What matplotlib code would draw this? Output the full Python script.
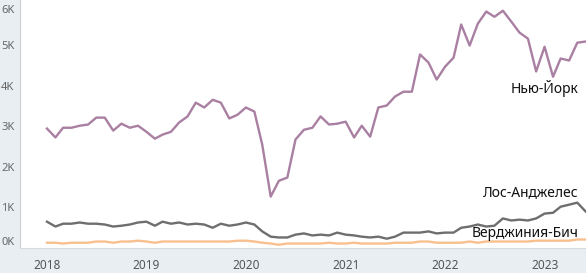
import pandas as pd
import matplotlib
matplotlib.use("Agg")
import matplotlib.pyplot as plt
import matplotlib.dates as mdates

# monthly values, Jan 2018 .. Jun 2023
months = pd.date_range("2018-01-01", periods=66, freq="MS")

new_york = [2940, 2720, 2960, 2960, 3010, 3040, 3210, 3210, 2890, 3060, 2960, 3010,
            2860, 2690, 2790, 2860, 3090, 3240, 3580, 3460, 3650, 3580, 3190, 3280,
            3460, 3360, 2540, 1260, 1650, 1730, 2670, 2910, 2960, 3240, 3040, 3060,
            3110, 2720, 3010, 2740, 3460, 3510, 3730, 3850, 3850, 4770, 4570, 4150,
            4470, 4690, 5510, 4990, 5530, 5830, 5700, 5850, 5580, 5310, 5160, 4350,
            4960, 4220, 4670, 4620, 5060, 5090]

los_angeles = [640, 520, 590, 590, 620, 590, 590, 570, 520, 540, 570, 620,
               640, 540, 640, 590, 620, 570, 590, 570, 490, 590, 540, 570,
               620, 570, 400, 270, 250, 250, 320, 350, 300, 320, 300, 370,
               320, 300, 270, 250, 270, 220, 270, 370, 370, 370, 400, 350,
               370, 370, 490, 520, 570, 520, 540, 720, 670, 690, 670, 720,
               840, 860, 1010, 1060, 1110, 890]

virginia_beach = [120, 120, 100, 120, 120, 120, 150, 150, 120, 150, 150, 170,
                  150, 120, 150, 150, 150, 150, 150, 150, 150, 150, 150, 170,
                  170, 150, 120, 100, 70, 100, 100, 100, 100, 100, 120, 100,
                  100, 120, 100, 100, 100, 100, 120, 120, 120, 150, 150, 120,
                  120, 120, 120, 150, 120, 150, 150, 150, 150, 150, 150, 170,
                  170, 170, 170, 170, 200, 200]

series = [
    ("Нью-Йорк", new_york, "#a97fa2", 0.645),
    ("Лос-Анджелес", los_angeles, "#6e6e6e", 0.222),
    ("Верджиния-Бич", virginia_beach, "#f8c08e", 0.06),
]

y_ticks = [0, 1000, 2000, 3000, 4000, 5000, 6000]
y_labels = ["0K", "1K", "2K", "3K", "4K", "5K", "6K"]
years = [2018, 2019, 2020, 2021, 2022, 2023]

panel = "#e8eef1"
fig = plt.figure(figsize=(5.86, 2.73), dpi=100, facecolor=panel)
ax = fig.add_axes([20 / 586, 25 / 273, 566 / 586, 248 / 273], facecolor="white")

for name, vals, color, label_y in series:
    ax.plot(months, vals, color=color, lw=1.7, solid_joinstyle="round")
    ax.text(0.986, label_y, name, transform=ax.transAxes, ha="right", va="center",
            fontsize=10, color="#111111", family="Noto Sans")

ax.set_ylim(-10, 6115)
ax.set_xlim(pd.Timestamp("2017-09-24"), pd.Timestamp("2023-06-02"))

ax.set_yticks(y_ticks)
ax.set_yticklabels(y_labels)
ax.set_xticks([pd.Timestamp(f"{y}-01-01") for y in years])
ax.set_xticklabels([str(y) for y in years])
ax.tick_params(axis="y", length=0, pad=4, labelsize=8, labelcolor="#666666")
ax.tick_params(axis="x", length=0, pad=8, labelsize=8.5, labelcolor="#555555")
for lab in ax.get_yticklabels():
    lab.set_family("Noto Sans")
for lab in ax.get_xticklabels():
    lab.set_family("Noto Sans")
ax.get_yticklabels()[0].set_va("bottom")
ax.get_yticklabels()[-1].set_va("top")

for s in ["top", "right"]:
    ax.spines[s].set_visible(False)
ax.spines["left"].set_color("#c9d1d5")
ax.spines["bottom"].set_color("#d5dcdf")

fig.savefig("out.png", dpi=100, facecolor=panel)
